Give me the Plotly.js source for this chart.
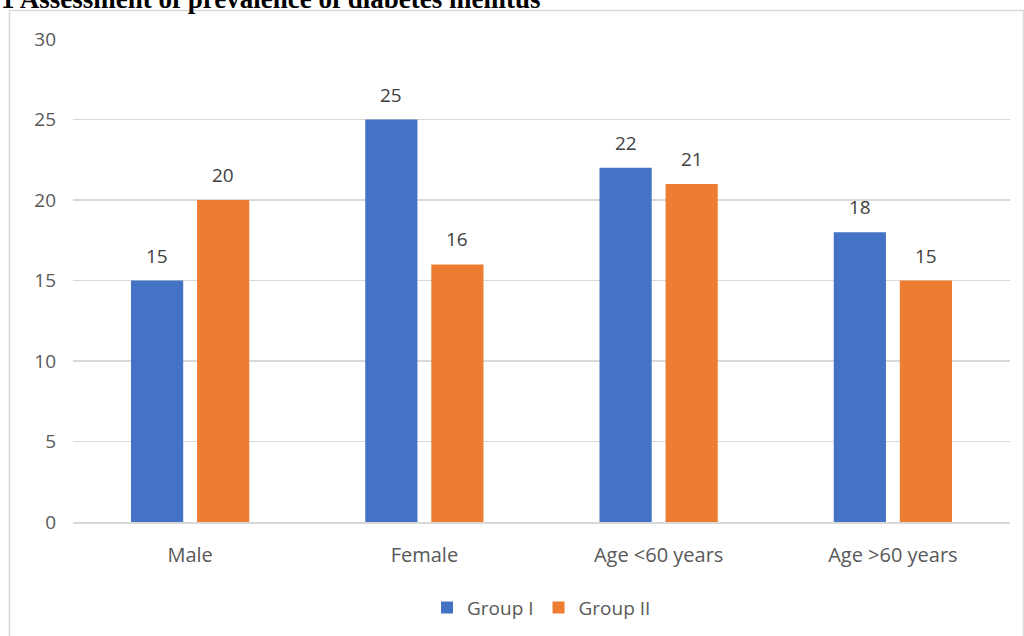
<!DOCTYPE html>
<html><head><meta charset="utf-8">
<script src="https://cdn.plot.ly/plotly-3.0.1.min.js"></script>
<style>html,body{margin:0;padding:0;background:#fff}#c{width:1024px;height:636px}</style>
</head><body><div id="c"></div>
<script>
const categories = ["Male", "Female", "Age <60 years", "Age >60 years"];
const groupI = [15, 25, 22, 18];
const groupII = [20, 16, 21, 15];
const seriesNames = ["Group I", "Group II"];
const yTicks = [0, 5, 10, 15, 20, 25, 30];

const font = "Open Sans, sans-serif";
const colors = ["#4472c4", "#ed7d31"];
const series = [groupI, groupII];
const traces = series.map((vals, i) => ({
  type: "bar", name: seriesNames[i], x: categories, y: vals, marker: {color: colors[i]}, hoverinfo: "none"
}));
const labelAnn = [];
series.forEach((vals, i) => vals.forEach((v, j) => labelAnn.push({
  xref: "x", yref: "y", x: categories[j], y: v, xshift: i === 0 ? -33 : 33, yshift: 10,
  yanchor: "bottom", xanchor: "center", showarrow: false, text: String(v),
  font: {family: font, size: 19, color: "#404040"}
})));
const layout = {
  width: 1024, height: 636,
  margin: {l: 73, r: 14, t: 39, b: 114, autoexpand: false},
  paper_bgcolor: "#fff", plot_bgcolor: "#fff",
  barmode: "group", bargap: 0.436, bargroupgap: 0.21,
  font: {family: font, color: "#595959", size: 19},
  xaxis: {showgrid: false, showline: true, linecolor: "#d9d9d9", linewidth: 1.5, ticks: "", tickfont: {size: 20, color: "#595959"}, ticklabelstandoff: 14},
  yaxis: {range: [0, 30], tickvals: yTicks, showgrid: true, gridcolor: "#d9d9d9", gridwidth: 1.5, zeroline: false, showline: false, ticks: "", tickfont: {size: 19, color: "#595959"}, ticklabelstandoff: 16},
  showlegend: true,
  legend: {orientation: "h", x: 0.5, xanchor: "center", y: -0.138, yanchor: "top", font: {size: 19, color: "#595959"}, itemwidth: 30},
  shapes: [{type: "rect", xref: "paper", yref: "paper", x0: -0.0678, x1: 1.0144, y0: -0.25, y1: 1.059, line: {color: "#d9d9d9", width: 1.5}, fillcolor: "rgba(0,0,0,0)", layer: "below"}],
  annotations: labelAnn.concat([{xref: "paper", yref: "paper", x: -0.0795, y: 1.0476, xanchor: "left", yanchor: "bottom", showarrow: false,
    text: "<b>1 Assessment of prevalence of diabetes mellitus</b>", font: {family: "Liberation Serif, Times New Roman, serif", size: 27, color: "#000"}}])
};
Plotly.newPlot("c", traces, layout, {displayModeBar: false, staticPlot: true});
</script></body></html>
